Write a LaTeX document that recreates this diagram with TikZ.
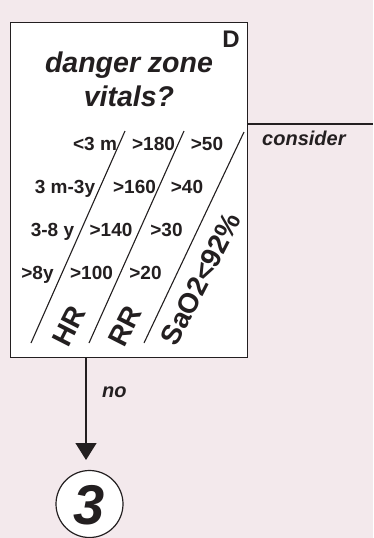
\documentclass[tikz,border=0pt]{standalone}
\usepackage{fontspec}
\setmainfont{Liberation Sans}
\usetikzlibrary{arrows.meta}
\definecolor{bgpink}{RGB}{243,233,236}
\definecolor{ink}{RGB}{35,31,32}
\begin{document}
\begin{tikzpicture}[x=1pt,y=-1pt,
  frame/.style={draw=ink,line width=1.3pt},
  rowtxt/.style={font=\fontsize{19}{22}\selectfont\bfseries,text=ink,inner sep=0pt,anchor=base},
  diag/.style={draw=ink,line width=1.1pt},
  vital/.style={font=\fontsize{28}{32}\selectfont\bfseries,text=ink,inner sep=0pt,rotate=63,anchor=center},
  titletxt/.style={font=\fontsize{28.5}{34}\selectfont\bfseries\itshape,text=ink,inner sep=0pt,anchor=base},
  ital/.style={font=\fontsize{20}{24}\selectfont\bfseries\itshape,text=ink,inner sep=0pt}]
\fill[bgpink] (0,0) rectangle (373,538);
\useasboundingbox (0,0) rectangle (373,538);
% decision box
\node[frame,fill=white,minimum width=237pt,minimum height=335pt,inner sep=0pt,anchor=north west] (box) at (10,22) {};
\node[font=\fontsize{24}{28}\selectfont\bfseries,text=ink,inner sep=0pt] (D) at (231,39.5) {D};
\node[titletxt] (title1) at (129,72.5) {danger zone};
\node[titletxt] (title2) at (129,106.5) {vitals?};
% consider line
\coordinate (cR) at (373,124);
\draw[frame] (box.east |- cR) -- (cR);
\node[ital,anchor=base west] (consider) at (262,145) {consider};
% diagonal lines
\coordinate (l1a) at (31,343); \coordinate (l1b) at (125,131);
\coordinate (l2a) at (89,343); \coordinate (l2b) at (184,131);
\coordinate (l3a) at (144,343); \coordinate (l3b) at (244,132);
\draw[diag] (l1a) -- (l1b);
\draw[diag] (l2a) -- (l2b);
\draw[diag] (l3a) -- (l3b);
% rows
\node[rowtxt] (a1) at (95,150) {<3 m};
\node[rowtxt] (b1) at (153.5,150) {>180};
\node[rowtxt] (c1) at (207,150) {>50};
\node[rowtxt] (a2) at (65,193) {3 m-3y};
\node[rowtxt] (b2) at (134.5,193) {>160};
\node[rowtxt] (c2) at (187,193) {>40};
\node[rowtxt] (a3) at (52.5,236) {3-8 y};
\node[rowtxt] (b3) at (111,236) {>140};
\node[rowtxt] (c3) at (166.5,236) {>30};
\node[rowtxt] (a4) at (37.5,279) {>8y};
\node[rowtxt] (b4) at (91.5,279) {>100};
\node[rowtxt] (c4) at (145.5,279) {>20};
% rotated labels
\node[vital] (HR) at (69,326) {HR};
\node[vital] (RR) at (125,326) {RR};
\node[vital] (sao) at (201,279) {SaO2<92\%};
% exit
\node[draw=ink,line width=1.2pt,circle,fill=white,minimum size=67pt,inner sep=0pt] (three) at (89.5,504) {};
\node[font=\fontsize{56}{64}\selectfont\bfseries\itshape,text=ink,inner sep=0pt] (three-t) at (89.5,505) {3};
\coordinate (top) at (86,357);
\coordinate (tip) at (86,460);
\draw[draw=ink,line width=1.3pt,-{Triangle[width=21pt,length=17pt]}] (top) -- (tip);
\node[ital,anchor=base west] (no) at (102,397) {no};
\end{tikzpicture}
\end{document}
